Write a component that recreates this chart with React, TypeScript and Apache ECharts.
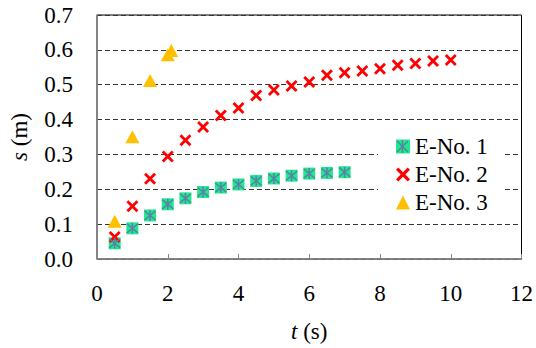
import React, { useEffect, useRef } from "react";
import * as echarts from "echarts";

const tNo1 = [0.5, 1, 1.5, 2, 2.5, 3, 3.5, 4, 4.5, 5, 5.5, 6, 6.5, 7];
const sNo1 = [0.045, 0.088, 0.125, 0.157, 0.174, 0.192, 0.205, 0.214, 0.224, 0.231, 0.239, 0.245, 0.247, 0.249];

const tNo2 = [0.5, 1, 1.5, 2, 2.5, 3, 3.5, 4, 4.5, 5, 5.5, 6, 6.5, 7, 7.5, 8, 8.5, 9, 9.5, 10];
const sNo2 = [0.063, 0.151, 0.23, 0.294, 0.341, 0.379, 0.412, 0.433, 0.469, 0.485, 0.496, 0.508, 0.527, 0.534, 0.539, 0.546, 0.556, 0.561, 0.568, 0.571];

const tNo3 = [0.5, 1, 1.5, 2, 2.1];
const sNo3 = [0.108, 0.351, 0.512, 0.586, 0.598];

const seriesNames = ["E-No. 1", "E-No. 2", "E-No. 3"];
const xTicks = { min: 0, max: 12, interval: 2 };
const yTicks = { min: 0, max: 0.7, interval: 0.1 };

const FONT = "Liberation Serif";
const FS = 23;
const GREEN = "#1EEB88";
const BLUE = "#5A7FB0";
const RED = "#FF0000";
const ORANGE = "#FFC000";

const crossPath = "path://M0,2 L2,0 L6,4 L10,0 L12,2 L8,6 L12,10 L10,12 L6,8 L2,12 L0,10 L4,6 Z";
const starPath = "path://M0,0 L10,10 M10,0 L0,10 M5,-1 L5,11";

const zip = (a: number[], b: number[]) => a.map((v, i) => [v, b[i]]);

const txt = { fontSize: FS, fontFamily: FONT, color: "#000" };

export default function App() {
  const ref = useRef<HTMLDivElement>(null);
  useEffect(() => {
    if (!ref.current) return;
    const chart = echarts.init(ref.current, undefined, { renderer: "svg" });
    const lx = 397;
    const ly = 141;
    chart.setOption({
      animation: false,
      backgroundColor: "#fff",
      textStyle: { fontFamily: FONT, fontSize: FS },
      grid: {
        left: 97,
        right: 14,
        top: 15,
        bottom: 89,
        show: true,
        borderColor: "#000",
        borderWidth: 1,
        backgroundColor: "transparent",
      },
      xAxis: {
        type: "value",
        min: xTicks.min,
        max: xTicks.max,
        interval: xTicks.interval,
        name: "{i|t} (s)",
        nameLocation: "middle",
        nameGap: 61,
        nameTextStyle: {
          ...txt,
          rich: { i: { ...txt, fontStyle: "italic" } },
        },
        axisLine: { show: true, lineStyle: { color: "#868686", width: 1.5 } },
        axisTick: { show: true, inside: true, length: 5, lineStyle: { color: "#868686", width: 1 } },
        axisLabel: { ...txt, margin: 23 },
        splitLine: { show: false },
      },
      yAxis: {
        type: "value",
        min: yTicks.min,
        max: yTicks.max,
        interval: yTicks.interval,
        name: "{i|s} (m)",
        nameLocation: "middle",
        nameGap: 66,
        nameTextStyle: {
          ...txt,
          rich: { i: { ...txt, fontStyle: "italic" } },
        },
        axisLine: { show: true, lineStyle: { color: "#868686", width: 1.5 } },
        axisTick: { show: false },
        axisLabel: {
          ...txt,
          margin: 24,
          formatter: (v: number) => v.toFixed(1),
        },
        splitLine: { show: true, lineStyle: { color: "#333", type: [5, 3], width: 1 } },
      },
      legend: {
        orient: "vertical",
        left: 378,
        top: 131,
        padding: [4, 16, 4, 18],
        backgroundColor: "#fff",
        itemWidth: 14,
        itemHeight: 14,
        itemGap: 5,
        data: [
          { name: seriesNames[0], icon: "rect", itemStyle: { color: GREEN, borderWidth: 0 } },
          { name: seriesNames[1] },
          { name: seriesNames[2] },
        ],
        textStyle: { ...txt },
      },
      series: [
        {
          name: seriesNames[0],
          type: "scatter",
          symbol: "rect",
          symbolSize: 12,
          itemStyle: { color: GREEN, opacity: 1 },
          data: zip(tNo1, sNo1),
          z: 3,
        },
        {
          name: seriesNames[0],
          type: "scatter",
          symbol: starPath,
          symbolSize: 11,
          itemStyle: { color: "none", borderColor: BLUE, borderWidth: 1.5, opacity: 1 },
          data: zip(tNo1, sNo1),
          z: 4,
        },
        {
          name: seriesNames[1],
          type: "scatter",
          symbol: crossPath,
          symbolSize: 12,
          itemStyle: { color: RED, opacity: 1 },
          data: zip(tNo2, sNo2),
          z: 3,
        },
        {
          name: seriesNames[2],
          type: "scatter",
          symbol: "triangle",
          symbolSize: [14, 13],
          itemStyle: { color: ORANGE, opacity: 1 },
          data: zip(tNo3, sNo3),
          z: 2,
        },
      ],
      graphic: [
        { type: "line", z: 100, shape: { x1: lx, y1: ly, x2: lx + 11, y2: ly + 11 }, style: { stroke: BLUE, lineWidth: 1.5 } },
        { type: "line", z: 100, shape: { x1: lx + 11, y1: ly, x2: lx, y2: ly + 11 }, style: { stroke: BLUE, lineWidth: 1.5 } },
        { type: "line", z: 100, shape: { x1: lx + 5.5, y1: ly - 1, x2: lx + 5.5, y2: ly + 12 }, style: { stroke: BLUE, lineWidth: 1.5 } },
      ],
    });
    return () => chart.dispose();
  }, []);
  return (
    <div
      ref={ref}
      style={{ position: "fixed", left: 0, top: 0, width: 536, height: 348 }}
    />
  );
}
